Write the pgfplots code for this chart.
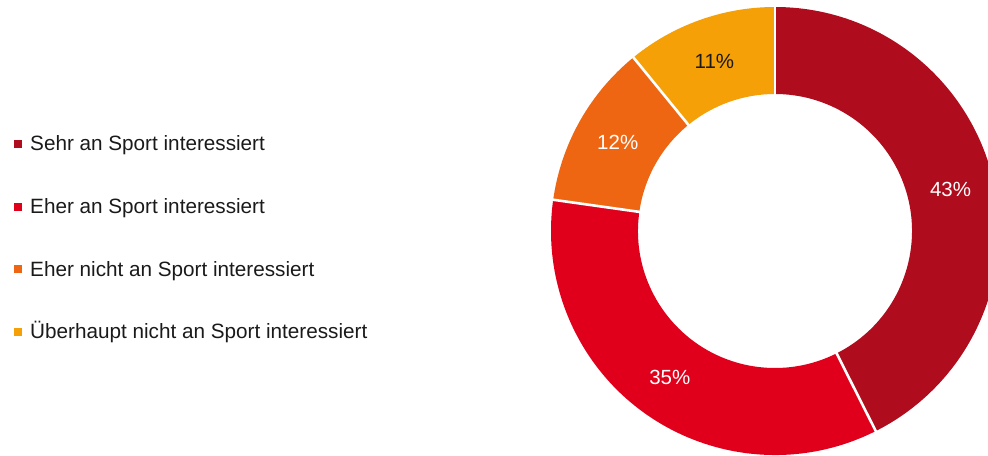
\documentclass[border=0pt]{standalone}
\usepackage{pgfplots}
\usepackage{pgfplotstable}
\pgfplotsset{compat=1.18}
\usetikzlibrary{calc}
\usepackage{fontspec}
\setmainfont{Liberation Sans}
\definecolor{cA}{HTML}{AF0C1D}
\definecolor{cB}{HTML}{E0001C}
\definecolor{cC}{HTML}{EF6612}
\definecolor{cD}{HTML}{F4A006}
\definecolor{txt}{HTML}{1A1A1A}

\pgfplotstableread{
label value
Sehr 43
Eher 35
EherNicht 12
Ueberhaupt 11
}\piedata

\newcommand\ring[3]{%
  \fill[#3] ($(C)+(#1:224bp)$) arc[start angle=#1,end angle=#2,radius=224bp]
     -- ($(C)+(#2:137bp)$) arc[start angle=#2,end angle=#1,radius=137bp] -- cycle;}
\newcommand\sep[1]{\draw[white,line width=2.6bp] ($(C)+(#1:130bp)$) -- ($(C)+(#1:232bp)$);}

\begin{document}
\begin{tikzpicture}
\pgfplotstablegetelem{0}{value}\of\piedata \let\vA\pgfplotsretval
\pgfplotstablegetelem{1}{value}\of\piedata \let\vB\pgfplotsretval
\pgfplotstablegetelem{2}{value}\of\piedata \let\vC\pgfplotsretval
\pgfplotstablegetelem{3}{value}\of\piedata \let\vD\pgfplotsretval
\pgfmathsetmacro\tot{\vA+\vB+\vC+\vD}
\pgfmathsetmacro\deg{360/\tot}
\pgfmathsetmacro\aA{90}
\pgfmathsetmacro\aB{90-\deg*\vA}
\pgfmathsetmacro\aC{90-\deg*(\vA+\vB)}
\pgfmathsetmacro\aD{90-\deg*(\vA+\vB+\vC)}
\pgfmathsetmacro\aE{-270}
\pgfmathsetmacro\mA{(\aA+\aB)/2}
\pgfmathsetmacro\mB{(\aB+\aC)/2}
\pgfmathsetmacro\mC{(\aC+\aD)/2}
\pgfmathsetmacro\mD{(\aD+\aE)/2}
\path[use as bounding box] (0,0) rectangle (988bp,456bp);
\begin{axis}[
  hide axis, scale only axis,
  x=1bp, y=1bp,
  xmin=0, xmax=988, ymin=0, ymax=456,
  at={(0,0)}, anchor=south west,
  clip=true,
]
\coordinate (C) at (axis cs:775,225);
\ring{\aA}{\aB}{cA}
\ring{\aB}{\aC}{cB}
\ring{\aC}{\aD}{cC}
\ring{\aD}{\aE}{cD}
\sep{\aA}
\sep{\aB}
\sep{\aC}
\sep{\aD}
\node[text=white,font=\fontsize{20.5bp}{24bp}\selectfont] at ($(C)+(\mA:180.5bp)$) {\vA\%};
\node[text=white,font=\fontsize{20.5bp}{24bp}\selectfont] at ($(C)+(\mB:180.5bp)$) {\vB\%};
\node[text=white,font=\fontsize{20.5bp}{24bp}\selectfont] at ($(C)+(\mC:180.5bp)$) {\vC\%};
\node[text=txt,font=\fontsize{20.5bp}{24bp}\selectfont] at ($(C)+(\mD:180.5bp)$) {\vD\%};
% legend
\fill[cA] (axis cs:14,308) rectangle (axis cs:22,316);
\fill[cB] (axis cs:14,245) rectangle (axis cs:22,253);
\fill[cC] (axis cs:14,182.5) rectangle (axis cs:22,190.5);
\fill[cD] (axis cs:14,120) rectangle (axis cs:22,128);
\node[anchor=base west,inner sep=0pt,text=txt,font=\fontsize{20.7bp}{24bp}\selectfont] at (axis cs:30,305.3) {Sehr an Sport interessiert};
\node[anchor=base west,inner sep=0pt,text=txt,font=\fontsize{20.7bp}{24bp}\selectfont] at (axis cs:30,242.6) {Eher an Sport interessiert};
\node[anchor=base west,inner sep=0pt,text=txt,font=\fontsize{20.7bp}{24bp}\selectfont] at (axis cs:30,180) {Eher nicht an Sport interessiert};
\node[anchor=base west,inner sep=0pt,text=txt,font=\fontsize{20.7bp}{24bp}\selectfont] at (axis cs:30,117.3) {Überhaupt nicht an Sport interessiert};
\end{axis}
\end{tikzpicture}
\end{document}
